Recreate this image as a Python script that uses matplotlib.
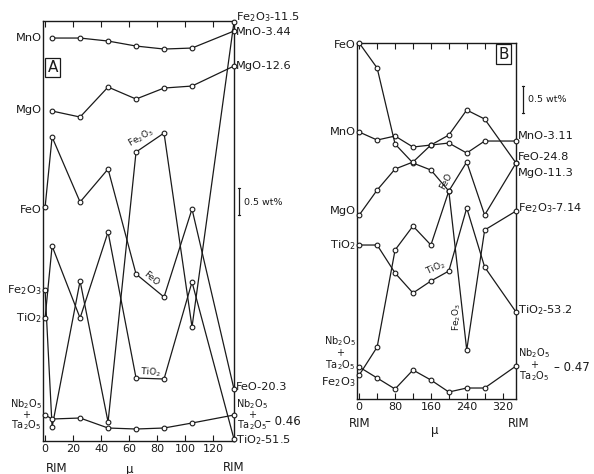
import matplotlib
matplotlib.use('Agg')
import matplotlib.pyplot as plt

# ---------------- Panel A data (relative level above axis, 27 units = 0.5 wt%) -------------
xA = [0, 5, 25, 45, 65, 85, 105, 135]
xA_short = [5, 25, 45, 65, 85, 105, 135]
A_MnO = [403, 403, 400, 395, 392, 393, 410]
A_MgO = [330, 324, 354, 342, 353, 355, 375]
A_FeO = [234, 304, 239, 272, 167, 144, 232, 52]
A_Fe2O3 = [151, 14, 160, 19, 289, 308, 114, 419]
A_TiO2 = [123, 195, 123, 209, 63, 62, 159, 2]
A_Nb = [26, 22, 23, 13, 12, 13, 18, 26]
A_ticks = [0, 20, 40, 60, 80, 100, 120]

A_left_labels = [("MnO", 403), ("MgO", 331), ("FeO", 231), ("Fe$_2$O$_3$", 151),
                 ("TiO$_2$", 123), ("Nb$_2$O$_5$\n+\nTa$_2$O$_5$", 26)]
A_right_labels = [("Fe$_2$O$_3$-11.5", 424), ("MnO-3.44", 409), ("MgO-12.6", 375),
                  ("FeO-20.3", 54), ("Nb$_2$O$_5$\n+\nTa$_2$O$_5$", 26), ("TiO$_2$-51.5", 1)]

# ---------------- Panel B data -------------
xB = [0, 40, 80, 120, 160, 200, 240, 280, 350]
B_MnO = [267, 259, 263, 252, 254, 256, 246, 258, 258]
B_FeO = [356, 331, 255, 236, 229, 208, 237, 184, 236]
B_MgO = [184, 209, 230, 237, 254, 264, 289, 280, 236]
B_TiO2 = [154, 154, 126, 106, 118, 128, 191, 132, 87]
B_Fe2O3 = [24, 52, 149, 173, 154, 208, 49, 169, 188]
B_Nb = [32, 21, 10, 29, 19, 7, 11, 11, 33]
B_ticks = [0, 40, 80, 120, 160, 200, 240, 280, 320]
B_ticklabels = ["0", "", "80", "", "160", "", "240", "", "320"]

B_left_labels = [("FeO", 354), ("MnO", 267), ("MgO", 188), ("TiO$_2$", 154),
                 ("Nb$_2$O$_5$\n+\nTa$_2$O$_5$", 46), ("Fe$_2$O$_3$", 17)]
B_right_labels = [("MnO-3.11", 263), ("FeO-24.8", 242), ("MgO-11.3", 226),
                  ("Fe$_2$O$_3$-7.14", 191), ("TiO$_2$-53.2", 89),
                  ("Nb$_2$O$_5$\n+\nTa$_2$O$_5$", 34)]

INK = '#1a1a1a'
plt.rcParams['font.family'] = ['DejaVu Sans']
plt.rcParams['mathtext.fontset'] = 'dejavusans'

fig = plt.figure(figsize=(5.94, 4.74), dpi=100)
axA = fig.add_axes([0.0724, 0.0696, 0.3215, 0.886])
axB = fig.add_axes([0.601, 0.1582, 0.2677, 0.751])


def style(ax, xlim, ylim):
    ax.set_xlim(*xlim)
    ax.set_ylim(*ylim)
    for s in ax.spines.values():
        s.set_linewidth(1.0)
        s.set_color(INK)
    ax.tick_params(axis='x', direction='in', top=True, length=4, width=0.8,
                   labelsize=8, pad=2, colors=INK)
    ax.tick_params(axis='y', left=False, labelleft=False)


def series(ax, x, y):
    ax.plot(x, y, '-o', color=INK, lw=0.9, ms=3.4, mfc='white', mec=INK, mew=0.8,
            clip_on=False, zorder=3)


def side_labels(ax, labels, side, fs=8.2, ls=0.95):
    x0, x1 = ax.get_xlim()
    for txt, y in labels:
        f = fs if '\n' not in txt else 7
        if side == 'left':
            ax.annotate(txt, xy=(x0, y), xytext=(-1, 0), textcoords='offset points',
                        ha='right', va='center', fontsize=f,
                        multialignment='center', linespacing=ls, color=INK,
                        annotation_clip=False)
        else:
            ax.annotate(txt, xy=(x1, y), xytext=(1.5, 0), textcoords='offset points',
                        ha='left', va='center', fontsize=f,
                        multialignment='center', linespacing=ls, color=INK,
                        annotation_clip=False)


# ---------- Panel A ----------
style(axA, (-1.5, 135), (0, 420))
axA.set_xticks(A_ticks)
axA.set_xticklabels([str(t) for t in A_ticks])
series(axA, xA_short, A_MnO)
series(axA, xA_short, A_MgO)
for ys in (A_FeO, A_Fe2O3, A_TiO2, A_Nb):
    series(axA, xA, ys)
side_labels(axA, A_left_labels, 'left', ls=0.85)
side_labels(axA, A_right_labels, 'right', ls=0.85)
axA.annotate("\u2013 0.46", xy=(135, 20), xytext=(22, 0), textcoords='offset points',
             ha='left', va='center', fontsize=8.5, color=INK, annotation_clip=False)
# scale bar
axA.plot([138.6, 138.6], [226, 253], color=INK, lw=0.9, clip_on=False)
axA.plot([137.6, 139.6], [226, 226], color=INK, lw=0.8, clip_on=False)
axA.plot([137.6, 139.6], [253, 253], color=INK, lw=0.8, clip_on=False)
axA.text(142.5, 239, "0.5 wt%", fontsize=6.8, va='center', ha='left', color=INK, clip_on=False)
# inline labels
axA.text(68.5, 303, "Fe$_2$O$_3$", fontsize=6.5, rotation=30, ha='center', va='center', color=INK)
axA.text(75.7, 162, "FeO", fontsize=6.5, rotation=-40, ha='center', va='center', color=INK)
axA.text(75.7, 69, "TiO$_2$", fontsize=6.5, rotation=-3, ha='center', va='center', color=INK)
axA.text(5.6, 373.5, "A", fontsize=11, ha='center', va='center', color=INK,
         bbox=dict(boxstyle='square,pad=0.15', fc='white', ec=INK, lw=0.9))
axA.text(8.5, -27, "RIM", fontsize=8.5, ha='center', va='center', color=INK, clip_on=False)
axA.text(60.7, -28, "\u03bc", fontsize=8.5, ha='center', va='center', color=INK, clip_on=False)
axA.text(135, -26, "RIM", fontsize=8.5, ha='center', va='center', color=INK, clip_on=False)

# ---------- Panel B ----------
style(axB, (-5, 350), (0, 356))
axB.set_xticks(B_ticks)
axB.set_xticklabels(B_ticklabels)
for ys in (B_MnO, B_FeO, B_MgO, B_TiO2, B_Fe2O3, B_Nb):
    series(axB, xB, ys)
side_labels(axB, B_left_labels, 'left', ls=1.0)
side_labels(axB, B_right_labels, 'right', ls=0.95)
axB.annotate("\u2013 0.47", xy=(350, 32), xytext=(27, 0), textcoords='offset points',
             ha='left', va='center', fontsize=8.5, color=INK, annotation_clip=False)
axB.plot([365, 365], [286, 313], color=INK, lw=0.9, clip_on=False)
axB.plot([362.5, 367.5], [286, 286], color=INK, lw=0.8, clip_on=False)
axB.plot([362.5, 367.5], [313, 313], color=INK, lw=0.8, clip_on=False)
axB.text(376, 300, "0.5 wt%", fontsize=6.8, va='center', ha='left', color=INK, clip_on=False)
axB.text(193.7, 218, "FeO", fontsize=6.5, rotation=62, ha='center', va='center', color=INK)
axB.text(171, 131, "TiO$_2$", fontsize=6.5, rotation=25, ha='center', va='center', color=INK)
axB.text(218, 82, "Fe$_2$O$_3$", fontsize=6.5, rotation=90, ha='center', va='center', color=INK)
axB.text(323, 345, "B", fontsize=11, ha='center', va='center', color=INK,
         bbox=dict(boxstyle='square,pad=0.15', fc='white', ec=INK, lw=0.9))
axB.text(1.7, -24, "RIM", fontsize=8.5, ha='center', va='center', color=INK, clip_on=False)
axB.text(169, -31, "\u03bc", fontsize=8.5, ha='center', va='center', color=INK, clip_on=False)
axB.text(356.6, -24, "RIM", fontsize=8.5, ha='center', va='center', color=INK, clip_on=False)

fig.savefig('out.png', dpi=100, facecolor='white')
